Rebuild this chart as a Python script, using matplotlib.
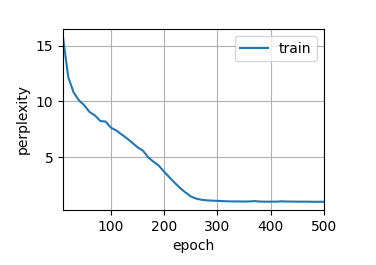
import matplotlib
matplotlib.use("Agg")
import matplotlib.pyplot as plt

epochs = list(range(10, 510, 10))
perplexity = [15.75, 12.15, 10.8, 10.1, 9.65, 9.05, 8.75, 8.25, 8.2, 7.65,
              7.4, 7.05, 6.7, 6.3, 5.9, 5.6, 5.0, 4.6, 4.25, 3.7,
              3.2, 2.7, 2.25, 1.85, 1.5, 1.3, 1.2, 1.15, 1.12, 1.1,
              1.08, 1.06, 1.05, 1.05, 1.04, 1.05, 1.08, 1.04, 1.03, 1.03,
              1.03, 1.06, 1.04, 1.04, 1.03, 1.03, 1.03, 1.02, 1.02, 1.02]

fig = plt.figure(figsize=(3.76, 2.65), dpi=100)
ax = fig.add_axes([63/376, 1-210/265, (324-63)/376, (210-29)/265])
ax.plot(epochs, perplexity, color='#1f77b4', linewidth=1.5, label='train')
ax.set_xlim(10, 500)
ax.set_xlabel('epoch')
ax.set_ylabel('perplexity')
ax.set_xticks([100, 200, 300, 400, 500])
ax.set_yticks([5, 10, 15])
ax.grid(True)
ax.legend(loc='upper right')
fig.savefig('out.png', dpi=100)
